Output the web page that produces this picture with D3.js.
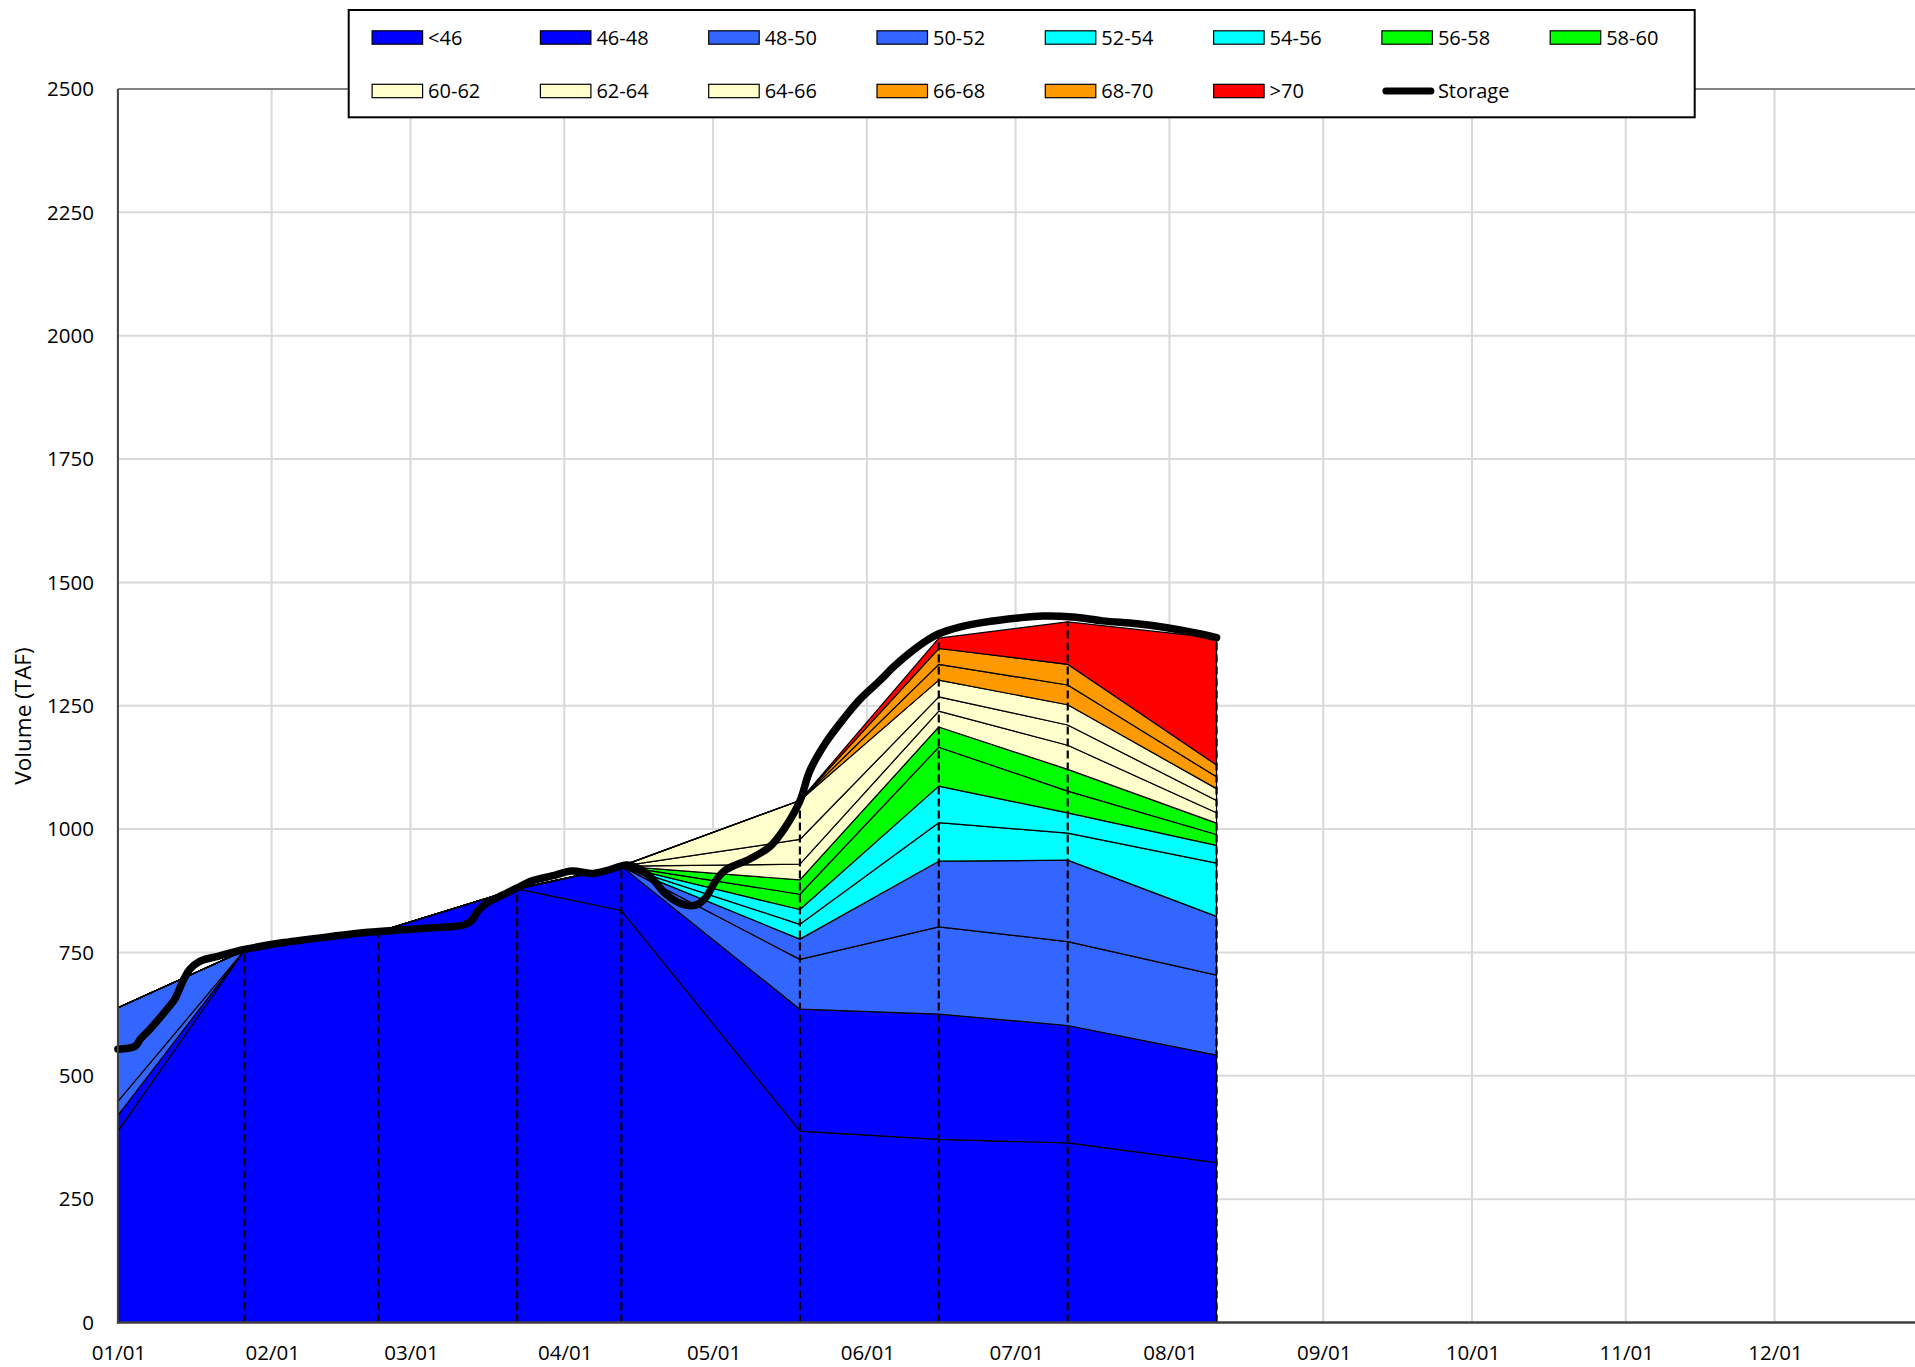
<!DOCTYPE html>
<html><head><meta charset="utf-8">
<script src="https://cdn.jsdelivr.net/npm/d3@7"></script>
<style>body{margin:0;background:#fff;} svg{display:block;font-family:"Open Sans",sans-serif;}</style>
</head><body><svg id="c" width="1915" height="1367"></svg>
<script>
// ---------- DATA ----------
const seriesNames = ["<46","46-48","48-50","50-52","52-54","54-56","56-58","58-60","60-62","62-64","64-66","66-68","68-70",">70"];
const seriesColors = ["#0000FF","#0000FF","#3366FF","#3366FF","#00FFFF","#00FFFF","#00FF00","#00FF00","#FFFFCC","#FFFFCC","#FFFFCC","#FF9900","#FF9900","#FF0000"];
const forecastDates = ["2023-01-01T00:00","2023-01-26T12:00","2023-02-22T12:00","2023-03-22T12:00","2023-04-12T12:00","2023-05-18T12:00","2023-06-15T12:00","2023-07-11T12:00","2023-08-10T12:00"];
const s_lt46  = [388, 754, 792, 879, 835, 388, 371, 364, 324];
const s_46_48 = [ 32,   0,   0,   0,  90, 247, 254, 238, 218];
const s_48_50 = [ 28,   0,   0,   0,   0, 101, 177, 170, 162];
const s_50_52 = [190,   0,   0,   0,   0,  41, 133, 165, 119];
const s_52_54 = [  0,   0,   0,   0,   0,  30,  78,  55, 108];
const s_54_56 = [  0,   0,   0,   0,   0,  30,  74,  41,  36];
const s_56_58 = [  0,   0,   0,   0,   0,  31,  79,  44,  22];
const s_58_60 = [  0,   0,   0,   0,   0,  29,  41,  44,  23];
const s_60_62 = [  0,   0,   0,   0,   0,  32,  32,  49,  21];
const s_62_64 = [  0,   0,   0,   0,   0,  50,  29,  41,  25];
const s_64_66 = [  0,   0,   0,   0,   0,  79,  34,  41,  24];
const s_66_68 = [  0,   0,   0,   0,   0,   0,  32,  40,  24];
const s_68_70 = [  0,   0,   0,   0,   0,   0,  32,  42,  24];
const s_gt70  = [  0,   0,   0,   0,   0,   0,  21,  86, 257];
const seriesValues = [s_lt46,s_46_48,s_48_50,s_50_52,s_52_54,s_54_56,s_56_58,s_58_60,s_60_62,s_62_64,s_64_66,s_66_68,s_68_70,s_gt70];

const storageDates = ["01-01","01-04","01-05","01-07","01-10","01-12","01-13","01-14","01-15","01-17","01-21","01-26",
 "02-03","02-13","02-20","02-27","03-05","03-11","03-12","03-13","03-14","03-16","03-19","03-22","03-25","03-29",
 "04-02","04-06","04-09","04-13","04-15","04-18","04-21","04-24","04-27","04-29","05-01","05-03","05-08","05-12",
 "05-15","05-18","05-20","05-23","05-27","05-30","06-03","06-06","06-09","06-13","06-15","06-19","06-24","07-01",
 "07-06","07-12","07-18","07-25","07-31","08-06","08-10"];
const storageValues = [554,560,574,595,630,656,678,700,716,732,743,756,
 770,783,791,796,800,805,809,817,833,851,866,881,895,905,
 915,910,916,927,923,902,868,849,846,861,895,917,940,965,
 1003,1057,1118,1172,1226,1262,1300,1330,1356,1385,1396,1409,1419,1428,
 1432,1430,1422,1416,1408,1397,1388];

const yTicks = [0,250,500,750,1000,1250,1500,1750,2000,2250,2500];
const monthTicks = ["2023-01-01","2023-02-01","2023-03-01","2023-04-01","2023-05-01","2023-06-01","2023-07-01","2023-08-01","2023-09-01","2023-10-01","2023-11-01","2023-12-01"];
const yTitle = "Volume (TAF)";

// ---------- CHART ----------
const svg = d3.select("#c");
const W = 1915, H = 1367;
const parseDT = d3.timeParse("%Y-%m-%dT%H:%M");
const parseD = d3.timeParse("%Y-%m-%d");
const x = d3.scaleTime().domain([new Date(2023,0,1), new Date(2024,0,1)]).range([117.9, 1928.3]);
const y = d3.scaleLinear().domain([0,2500]).range([1322.5, 89]);

// gridlines
const grid = svg.append("g");
grid.selectAll("line.h").data(yTicks.filter(v=>v>0 && v<2500)).join("line")
  .attr("x1", x.range()[0]).attr("x2", W).attr("y1", d=>y(d)).attr("y2", d=>y(d))
  .attr("stroke","#d9d9d9").attr("stroke-width",2);
grid.selectAll("line.v").data(monthTicks.slice(1)).join("line")
  .attr("x1", d=>x(parseD(d))).attr("x2", d=>x(parseD(d))).attr("y1", y(0)).attr("y2", y(2500))
  .attr("stroke","#d9d9d9").attr("stroke-width",2);

// stacked areas
const rows = forecastDates.map((d,i)=>{
  const r = {date: parseDT(d)};
  seriesNames.forEach((n,k)=>{ r[n] = seriesValues[k][i]; });
  return r;
});
const stacked = d3.stack().keys(seriesNames)(rows);
const area = d3.area().x(d=>x(d.data.date)).y0(d=>y(d[0])).y1(d=>y(d[1]));
svg.append("g").selectAll("path").data(stacked).join("path")
  .attr("d", area).attr("fill",(d,i)=>seriesColors[i])
  .attr("stroke","#000").attr("stroke-width",1.2).attr("stroke-linejoin","round");

// dashed forecast lines
const topLayer = stacked[stacked.length-1];
svg.append("g").selectAll("line").data(topLayer.slice(1)).join("line")
  .attr("x1", d=>x(d.data.date)).attr("x2", d=>x(d.data.date))
  .attr("y1", y(0)).attr("y2", d=>y(d[1]))
  .attr("stroke","#000").attr("stroke-width",2.2).attr("stroke-dasharray","8,4");

// storage line
const stData = storageDates.map((d,i)=>({date: parseDT("2023-"+d+(i===0?"T00:00":"T12:00")), v: storageValues[i]}));
svg.append("path").datum(stData)
  .attr("d", d3.line().x(d=>x(d.date)).y(d=>y(d.v)).curve(d3.curveCatmullRom.alpha(0.5)))
  .attr("fill","none").attr("stroke","#000").attr("stroke-width",7.5)
  .attr("stroke-linejoin","round").attr("stroke-linecap","round");

// axes lines
svg.append("line").attr("x1",x.range()[0]).attr("x2",W).attr("y1",y(2500)).attr("y2",y(2500))
  .attr("stroke","#595959").attr("stroke-width",1.5);
svg.append("line").attr("x1",x.range()[0]).attr("x2",x.range()[0]).attr("y1",y(0)+1).attr("y2",y(2500))
  .attr("stroke","#404040").attr("stroke-width",2);
svg.append("line").attr("x1",x.range()[0]-1).attr("x2",W).attr("y1",y(0)).attr("y2",y(0))
  .attr("stroke","#404040").attr("stroke-width",2.5);

// tick labels
svg.append("g").selectAll("text").data(yTicks).join("text")
  .attr("x",94).attr("y",d=>y(d)).attr("dy","0.35em").attr("text-anchor","end")
  .attr("font-size","20.5px").attr("fill","#000").text(d=>d);
const fmt = d3.timeFormat("%m/%d");
svg.append("g").selectAll("text").data(monthTicks).join("text")
  .attr("x",d=>x(parseD(d))+1).attr("y",1360).attr("text-anchor","middle")
  .attr("font-size","20.5px").attr("fill","#000").text(d=>fmt(parseD(d)));
svg.append("text").attr("transform","translate(23.5,716) rotate(-90)")
  .attr("text-anchor","middle").attr("dy","0.35em").attr("font-size","22.5px").attr("fill","#000").text(yTitle);

// legend
const lg = svg.append("g");
lg.append("rect").attr("x",348.7).attr("y",10).attr("width",1346).attr("height",107.3)
  .attr("fill","#fff").attr("stroke","#000").attr("stroke-width",2);
const items = seriesNames.map((n,i)=>({name:n,color:seriesColors[i],type:"area"})).concat([{name:"Storage",type:"line"}]);
items.forEach((it,i)=>{
  const col = i%8, row = Math.floor(i/8);
  const lx = 372.1 + col*168.3, cy = row===0 ? 37.5 : 91;
  if(it.type==="area"){
    lg.append("rect").attr("x",lx).attr("y",cy-6.7).attr("width",50.5).attr("height",13.4)
      .attr("fill",it.color).attr("stroke","#000").attr("stroke-width",1.2);
  } else {
    lg.append("line").attr("x1",lx+4).attr("x2",lx+49).attr("y1",cy).attr("y2",cy)
      .attr("stroke","#000").attr("stroke-width",7).attr("stroke-linecap","round");
  }
  lg.append("text").attr("x",lx+56).attr("y",cy).attr("dy","0.35em")
    .attr("font-size","20px").attr("fill","#000").text(it.name);
});
</script></body></html>
